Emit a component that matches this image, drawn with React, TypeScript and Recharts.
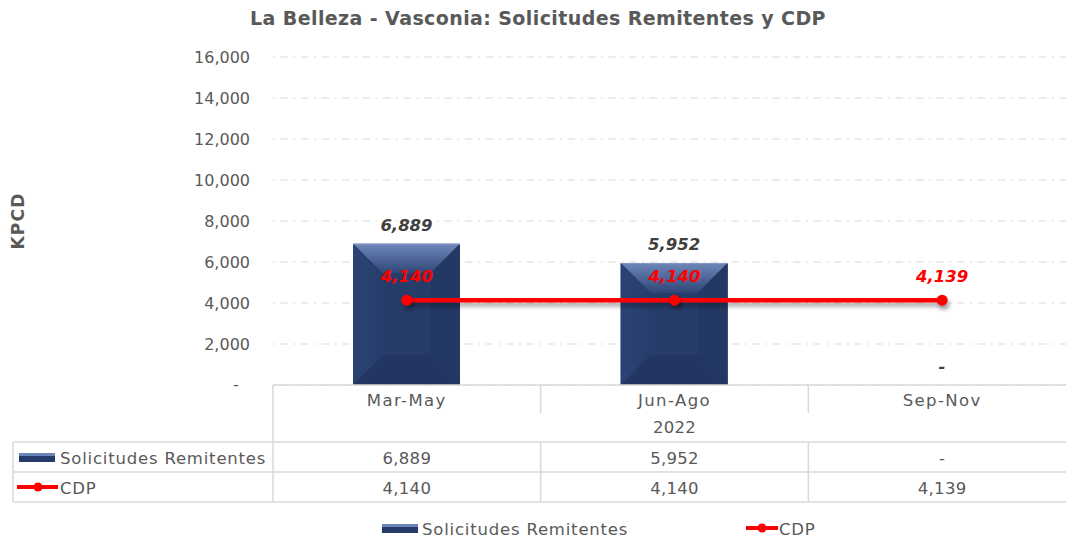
import React from 'react';
import { ComposedChart, Bar, Line, XAxis, YAxis, CartesianGrid, LabelList } from 'recharts';

const title = 'La Belleza - Vasconia: Solicitudes Remitentes y CDP';
const yAxisLabel = 'KPCD';
const categories = ['Mar-May', 'Jun-Ago', 'Sep-Nov'];
const yearLabel = '2022';
const solicitudes = [6889, 5952, 0];
const cdp = [4140, 4140, 4139];
const yTicks = [0, 2000, 4000, 6000, 8000, 10000, 12000, 14000, 16000];
const seriesNames = ['Solicitudes Remitentes', 'CDP'];

const data = categories.map((c, i) => ({ cat: c, sol: solicitudes[i], cdp: cdp[i] }));

const W = 1077;
const H = 540;
const PLOT_LEFT = 273;
const PLOT_RIGHT = 1076;
const PLOT_TOP = 57;
const PLOT_BOTTOM = 385;
const Y_AXIS_W = 60;
const FONT = '"DejaVu Sans", Verdana, sans-serif';
const GRAY = '#595959';
const LINE_C = '#D9D9D9';

const fmt = (v: number) => (v === 0 ? '-' : v.toLocaleString('en-US'));

const BevelBar = (props: any) => {
  const { x, y, width: w, height: h } = props;
  if (!h || h <= 0) return null;
  const b = Math.min(30, h / 2, w / 2);
  return (
    <g>
      <rect x={x} y={y} width={w} height={h} fill="#253B68" />
      <polygon points={`${x},${y} ${x + w},${y} ${x + w - b},${y + b} ${x + b},${y + b}`} fill="url(#topBevel)" />
      <polygon points={`${x},${y} ${x + b},${y + b} ${x + b},${y + h - b} ${x},${y + h}`} fill="url(#leftBevel)" />
      <polygon points={`${x + w},${y} ${x + w - b},${y + b} ${x + w - b},${y + h - b} ${x + w},${y + h}`} fill="#233863" />
      <polygon points={`${x},${y + h} ${x + b},${y + h - b} ${x + w - b},${y + h - b} ${x + w},${y + h}`} fill="#223661" />
      <rect x={x + b} y={y + b} width={w - 2 * b} height={Math.max(0, h - 2 * b)} fill="#263C69" />
      <line x1={x} y1={y + 0.5} x2={x + w} y2={y + 0.5} stroke="#8098C4" strokeWidth={1} />
    </g>
  );
};

const BarLabel = (props: any) => {
  const { x, y, width, value } = props;
  return (
    <text x={x + width / 2} y={y - 13} textAnchor="middle" fontFamily={FONT} fontSize={16.5} fontWeight="bold" fontStyle="italic" fill="#404040">
      {fmt(value)}
    </text>
  );
};

const LineLabel = (props: any) => {
  const { x, y, value } = props;
  return (
    <text x={x} y={y - 18} textAnchor="middle" fontFamily={FONT} fontSize={16.5} fontWeight="bold" fontStyle="italic" fill="#FF0000">
      {fmt(value)}
    </text>
  );
};

const YTick = (props: any) => {
  const { x, y, payload } = props;
  const v = payload.value;
  if (v === 0) {
    return (
      <text x={236} y={y + 5} textAnchor="middle" fontFamily={FONT} fontSize={16} fill={GRAY}>-</text>
    );
  }
  return (
    <text x={x} y={y + 6} textAnchor="end" fontFamily={FONT} fontSize={16} fill={GRAY}>
      {fmt(v)}
    </text>
  );
};

const TXT = { fontFamily: FONT, fontSize: 16.5, fill: GRAY };

const DataTable = () => {
  const colW = (PLOT_RIGHT - PLOT_LEFT) / categories.length;
  const cx = (i: number) => PLOT_LEFT + colW * (i + 0.5);
  const vLines = categories.map((_, i) => PLOT_LEFT + colW * i).concat([PLOT_RIGHT]);
  const rowTop = 442;
  const rowH = 30;
  const tableLeft = 13;
  const rows = [solicitudes, cdp];
  return (
    <g>
      <line x1={PLOT_LEFT} y1={PLOT_BOTTOM} x2={PLOT_RIGHT} y2={PLOT_BOTTOM} stroke={LINE_C} strokeWidth={1.5} />
      {vLines.map((vx, i) => {
        const full = i === 0 || i === vLines.length - 1;
        return (
          <g key={i}>
            {full ? (
              <line x1={vx} y1={PLOT_BOTTOM} x2={vx} y2={rowTop + rowH * 2} stroke={LINE_C} strokeWidth={1.5} />
            ) : (
              <>
                <line x1={vx} y1={PLOT_BOTTOM} x2={vx} y2={413} stroke={LINE_C} strokeWidth={1.5} />
                <line x1={vx} y1={rowTop} x2={vx} y2={rowTop + rowH * 2} stroke={LINE_C} strokeWidth={1.5} />
              </>
            )}
          </g>
        );
      })}
      <line x1={tableLeft} y1={rowTop} x2={tableLeft} y2={rowTop + rowH * 2} stroke={LINE_C} strokeWidth={1.5} />
      {[0, 1, 2].map((r) => (
        <line key={r} x1={tableLeft} y1={rowTop + rowH * r} x2={PLOT_RIGHT} y2={rowTop + rowH * r} stroke={LINE_C} strokeWidth={1.5} />
      ))}
      {categories.map((c, i) => (
        <text key={c} x={cx(i)} y={406} textAnchor="middle" {...TXT} letterSpacing={1.4}>{c}</text>
      ))}
      <text x={(PLOT_LEFT + PLOT_RIGHT) / 2} y={433} textAnchor="middle" {...TXT} letterSpacing={0.3}>{yearLabel}</text>
      {rows.map((vals, r) =>
        vals.map((v, i) => (
          <text key={`${r}-${i}`} x={cx(i)} y={rowTop + rowH * r + 22} textAnchor="middle" {...TXT} letterSpacing={0.3}>
            {fmt(v)}
          </text>
        ))
      )}
      <rect x={19} y={rowTop + 11} width={36} height={9} fill="#253B69" />
      <rect x={19} y={rowTop + 11} width={36} height={3} fill="#6A86B8" />
      <text x={60} y={rowTop + 22} {...TXT} letterSpacing={0.8}>{seriesNames[0]}</text>
      <line x1={17} y1={rowTop + rowH + 15} x2={58} y2={rowTop + rowH + 15} stroke="#FF0000" strokeWidth={4} />
      <circle cx={38} cy={rowTop + rowH + 15} r={4.5} fill="#FF0000" />
      <text x={60} y={rowTop + rowH + 22} {...TXT} letterSpacing={0.8}>{seriesNames[1]}</text>
    </g>
  );
};

const Overlay = () => (
  <svg width={W} height={H} style={{ position: 'absolute', left: 0, top: 0, pointerEvents: 'none' }}>
    <text x={538} y={25} textAnchor="middle" fontFamily={FONT} fontSize={19} fontWeight="bold" fill={GRAY} letterSpacing={0.4}>{title}</text>
    <text transform="translate(24,221) rotate(-90)" textAnchor="middle" fontFamily={FONT} fontSize={17} fontWeight="bold" fill={GRAY} letterSpacing={1.2}>{yAxisLabel}</text>
    <DataTable />
    <rect x={382} y={524} width={36} height={9} fill="#253B69" />
    <rect x={382} y={524} width={36} height={3} fill="#6A86B8" />
    <text x={422} y={535} {...TXT} letterSpacing={0.8}>{seriesNames[0]}</text>
    <line x1={746} y1={528} x2={778} y2={528} stroke="#FF0000" strokeWidth={4} />
    <circle cx={762} cy={528} r={4.5} fill="#FF0000" />
    <text x={779} y={535} {...TXT} letterSpacing={0.8}>{seriesNames[1]}</text>
  </svg>
);

export default function App() {
  return (
    <div style={{ position: 'relative', width: 1066, height: H, overflow: 'hidden', background: '#fff' }}>
      <style>{`body{margin:0}`}</style>
      <div style={{ position: 'absolute', left: 0, top: 0 }}>
        <ComposedChart
          width={W}
          height={H}
          data={data}
          margin={{ top: PLOT_TOP, right: W - PLOT_RIGHT, bottom: H - PLOT_BOTTOM, left: PLOT_LEFT - Y_AXIS_W }}
        >
          <defs>
            <linearGradient id="topBevel" x1="0" y1="0" x2="0" y2="1">
              <stop offset="0%" stopColor="#6F88B9" />
              <stop offset="100%" stopColor="#2E4576" />
            </linearGradient>
            <linearGradient id="leftBevel" x1="0" y1="0" x2="1" y2="0">
              <stop offset="0%" stopColor="#2B4373" />
              <stop offset="100%" stopColor="#273E6C" />
            </linearGradient>
            <filter id="lineShadow" filterUnits="userSpaceOnUse" x="0" y="0" width={W} height={H}>
              <feDropShadow dx="2" dy="4" stdDeviation="2" floodColor="#000" floodOpacity="0.35" />
            </filter>
          </defs>
          <CartesianGrid vertical={false} stroke={LINE_C} strokeDasharray="2 5.5 7.5 5.5" />
          <XAxis dataKey="cat" hide />
          <YAxis
            width={Y_AXIS_W}
            domain={[0, 16000]}
            ticks={yTicks}
            axisLine={false}
            tickLine={false}
            tickSize={0}
            tickMargin={23}
            tick={<YTick />}
            interval={0}
          />
          <Bar dataKey="sol" barSize={107} shape={<BevelBar />} isAnimationActive={false}>
            <LabelList dataKey="sol" content={<BarLabel />} />
          </Bar>
          <Line
            dataKey="cdp"
            stroke="#FF0000"
            strokeWidth={4.5}
            dot={{ r: 5.5, fill: '#FF0000', stroke: '#FF0000', strokeWidth: 0 }}
            activeDot={false}
            isAnimationActive={false}
            filter="url(#lineShadow)"
          >
            <LabelList dataKey="cdp" content={<LineLabel />} />
          </Line>
        </ComposedChart>
      </div>
      <Overlay />
    </div>
  );
}
